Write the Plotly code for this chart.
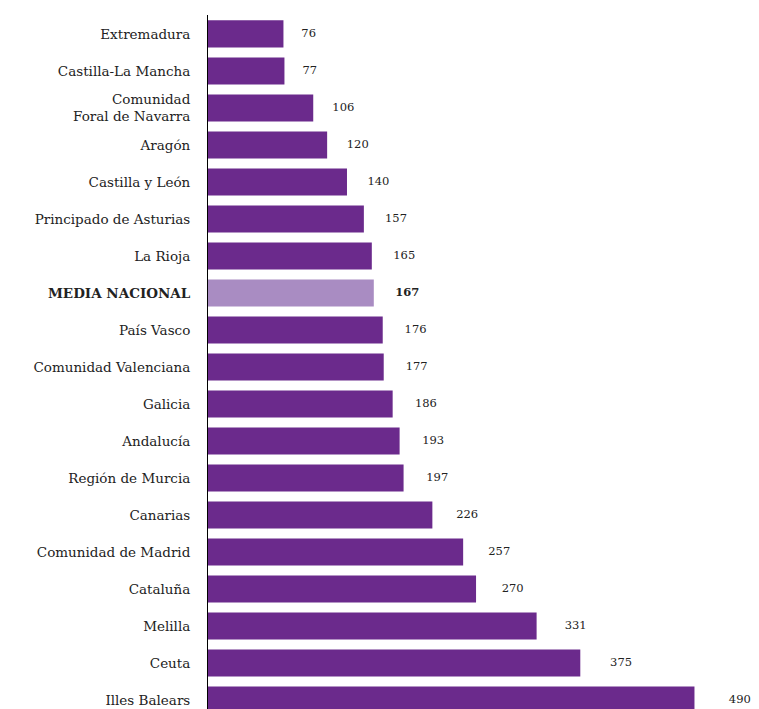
"""Bar chart: regional values vs national mean."""

import plotly.graph_objects as go

regions = [
    "Extremadura",
    "Castilla-La Mancha",
    "Comunidad<br>Foral de Navarra",
    "Aragón",
    "Castilla y León",
    "Principado de Asturias",
    "La Rioja",
    "<b>MEDIA NACIONAL</b>",
    "País Vasco",
    "Comunidad Valenciana",
    "Galicia",
    "Andalucía",
    "Región de Murcia",
    "Canarias",
    "Comunidad de Madrid",
    "Cataluña",
    "Melilla",
    "Ceuta",
    "Illes Balears",
]
values = [76, 77, 106, 120, 140, 157, 165, 167, 176, 177, 186, 193, 197, 226, 257, 270, 331, 375, 490]
highlight = "<b>MEDIA NACIONAL</b>"

PURPLE = "#6b2a8c"
LIGHT = "#a98cc2"
FONT = "DejaVu Serif"

colors = [LIGHT if r == highlight else PURPLE for r in regions]
labels = [f"<b>{v}</b>" if r == highlight else str(v) for r, v in zip(regions, values)]
label_x = [v + 15 + 0.04 * v for v in values]

fig = go.Figure()
fig.add_trace(go.Bar(
    x=values, y=regions, orientation="h",
    marker=dict(color=colors, line=dict(width=0)),
    width=0.73, hoverinfo="x+y",
))
fig.add_trace(go.Scatter(
    x=label_x, y=regions, mode="text", text=labels,
    textposition="middle right", cliponaxis=False,
    textfont=dict(family=FONT, size=11.5, color="#222"),
    hoverinfo="skip",
))

# page body adds an 8px margin, so the figure is a bit smaller than the window
fig.update_layout(
    width=751, height=701,
    margin=dict(l=200, r=0, t=7, b=0, autoexpand=False),
    paper_bgcolor="white", plot_bgcolor="white",
    showlegend=False,
    font=dict(family=FONT, size=13, color="#222"),
)
fig.update_xaxes(range=[0, 555], visible=False, fixedrange=True)
fig.update_yaxes(
    categoryorder="array", categoryarray=regions,
    range=[18.24, -0.51], automargin=False,
    showline=True, linecolor="black", linewidth=1,
    ticks="", showgrid=False, zeroline=False,
    ticklabelstandoff=14,
    tickfont=dict(family=FONT, size=13.5, color="#222"),
)

fig.write_html("out.html")
